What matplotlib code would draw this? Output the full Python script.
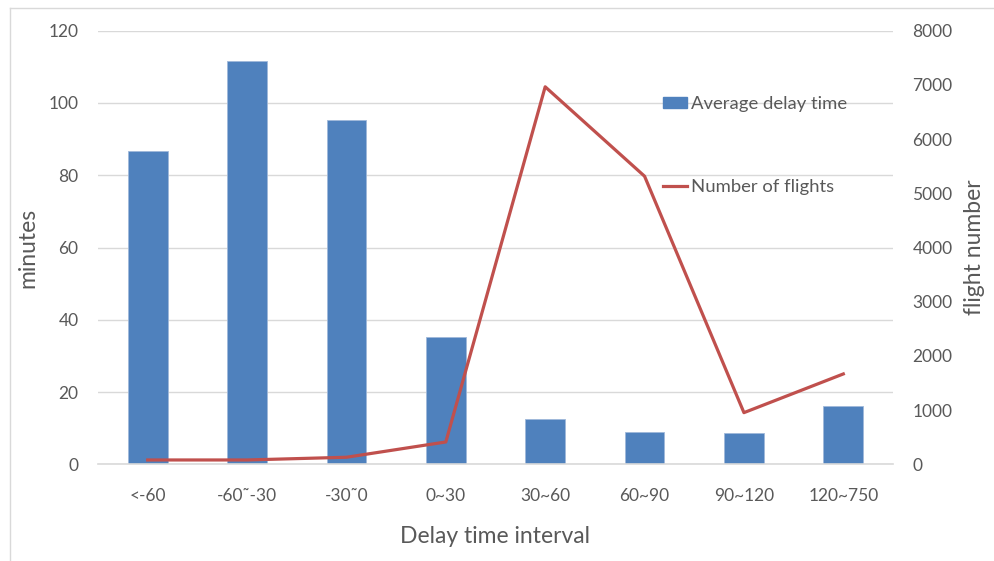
import matplotlib
matplotlib.use("Agg")
import matplotlib.pyplot as plt
from matplotlib.lines import Line2D
from matplotlib.patches import Patch

plt.rcParams['font.family'] = ['Lato', 'DejaVu Sans']

categories = ["<-60", "-60˜-30", "-30˜0", "0~30", "30~60", "60~90", "90~120", "120~750"]
avg_delay = [86.6, 111.5, 95.4, 35.3, 12.5, 8.9, 8.6, 16.0]
flights = [80, 80, 130, 412, 6965, 5315, 953, 1667]
left_ticks = [0, 20, 40, 60, 80, 100, 120]
right_ticks = [0, 1000, 2000, 3000, 4000, 5000, 6000, 7000, 8000]

TEXT = "#595959"
GRID = "#d9d9d9"
BAR = "#4f81bd"
LINE = "#c0504d"

W, H = 994, 561
fig = plt.figure(figsize=(W / 100, H / 100), dpi=100)

# outer chart frame (left and top edges)
fig.add_artist(Line2D([9.5 / W, 9.5 / W], [0, 1 - 7.5 / H], color=GRID, lw=1.0))
fig.add_artist(Line2D([9.5 / W, 1], [1 - 7.5 / H, 1 - 7.5 / H], color=GRID, lw=1.0))

ax = fig.add_axes([98 / W, 1 - 464.3 / H, (893 - 98) / W, (464.3 - 30.7) / H])
x = list(range(len(categories)))
ax.bar(x, avg_delay, width=0.4, color=BAR, edgecolor="#9fb8da", linewidth=0.6, zorder=2)
ax.set_xlim(-0.5, len(categories) - 0.5)
ax.set_ylim(0, 120)
ax.set_yticks(left_ticks)
ax.set_xticks(x)
ax.set_xticklabels(categories)
ax.grid(axis="y", color=GRID, lw=1.0, zorder=0)
ax.set_axisbelow(True)
for s in ["top", "right", "left"]:
    ax.spines[s].set_visible(False)
ax.spines["bottom"].set_color(GRID)
ax.spines["bottom"].set_linewidth(1.2)
ax.tick_params(axis="both", length=0, colors=TEXT, labelsize=12.5)
ax.tick_params(axis="y", pad=14)
ax.tick_params(axis="x", pad=17)
ax.set_ylabel("minutes", color=TEXT, fontsize=16.5, labelpad=7)
ax.set_xlabel("Delay time interval", color=TEXT, fontsize=16.5, labelpad=16)

ax2 = ax.twinx()
ax2.plot(x, flights, color=LINE, lw=2.3, zorder=3)
ax2.set_ylim(0, 8000)
ax2.set_yticks(right_ticks)
for s in ["top", "right", "left", "bottom"]:
    ax2.spines[s].set_visible(False)
ax2.tick_params(axis="y", length=0, colors=TEXT, labelsize=12.5, pad=14)
ax2.set_ylabel("flight number", color=TEXT, fontsize=16.5, labelpad=8)

handles = [Patch(facecolor=BAR, edgecolor=BAR),
           Line2D([0], [0], color=LINE, lw=2.3)]
labels = ["Average delay time", "Number of flights"]
fig.legend(handles, labels, loc="upper left",
           bbox_to_anchor=(663 / W, 1 - 96 / H), frameon=False,
           fontsize=13.3, labelcolor=TEXT, handlelength=1.3, handleheight=0.6,
           handletextpad=0.22, labelspacing=3.65, borderaxespad=0, borderpad=0)

fig.savefig("out.png", dpi=100)
